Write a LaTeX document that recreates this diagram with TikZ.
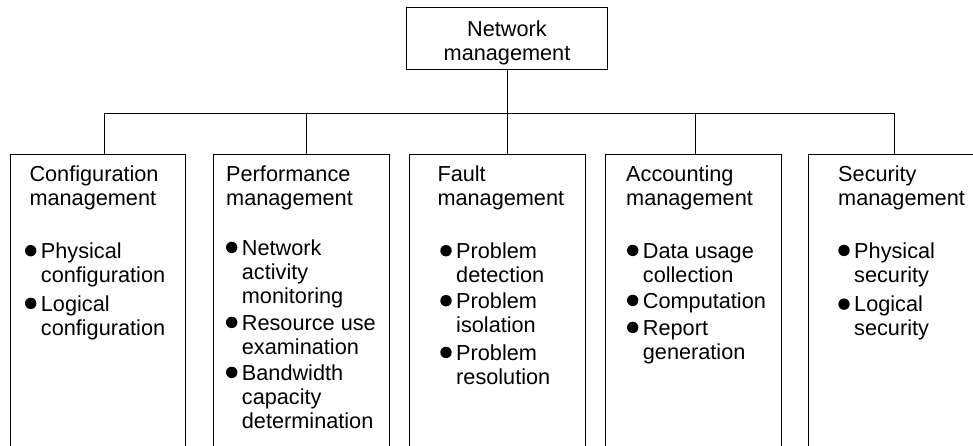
\documentclass[tikz,border=0pt]{standalone}
\usepackage{fontspec}
\setmainfont{Liberation Sans}
\tikzset{
  line/.style={line width=1pt},
  topbox/.style={draw,line width=1pt,minimum width=201pt,minimum height=61.3pt,align=center,inner sep=0pt},
  area/.style={draw,line width=1pt,minimum width=175.4pt,minimum height=330pt,anchor=north west,inner sep=0pt},
  txt/.style={anchor=base west,align=left,inner sep=0pt},
  dot/.style={circle,fill,inner sep=0pt,minimum size=11.4pt}
}
\begin{document}
\begin{tikzpicture}[x=1pt,y=-1pt,every node/.style={font=\fontsize{21.7}{24}\selectfont}]
  \useasboundingbox (0,0) rectangle (973,445);
  \clip (0,0) rectangle (973,445);
  % top of the tree
  \node[topbox] (net) at (507,38.6) {\rule{0pt}{23.5pt}Network\\management};
  % the five functional areas
  \node[area] (cfg) at (10,154) {};
  \node[area] (perf) at (213.3,154) {};
  \node[area] (fault) at (409.3,154) {};
  \node[area] (acct) at (605.3,154) {};
  \node[area] (sec) at (808.3,154) {};
  % bus and drops
  \coordinate (d1) at (104,113.3);
  \coordinate (d2) at (306,113.3);
  \coordinate (d4) at (695.3,113.3);
  \coordinate (d5) at (894.7,113.3);
  \draw[line] (net.south) -- (net.south |- fault.north);
  \draw[line] (d1) -- (d5);
  \foreach \d/\b in {d1/cfg,d2/perf,d4/acct,d5/sec}
    \draw[line] (\d) -- (\d |- \b.north);
  % titles (placed at the last baseline)
  \node[txt] (cfgT) at (29.3,205) {Configuration\\management};
  \node[txt] (perfT) at (226,205) {Performance\\management};
  \node[txt] (faultT) at (437.3,205) {Fault\\management};
  \node[txt] (acctT) at (626,205) {Accounting\\management};
  \node[txt] (secT) at (838,205) {Security\\management};
  % bulleted items: first baseline / extra lines / text
  \foreach \n/\p/\k/\t in {
      cfgA/{40.7,258.3}/1/{Physical\\configuration},
      cfgB/{40.7,311}/1/{Logical\\configuration},
      perfA/{241.7,255}/2/{Network\\activity\\monitoring},
      perfB/{241.7,330}/1/{Resource use\\examination},
      perfC/{241.7,380}/2/{Bandwidth\\capacity\\determination},
      faultA/{456,258.3}/1/{Problem\\detection},
      faultB/{456,308.3}/1/{Problem\\isolation},
      faultC/{456,360}/1/{Problem\\resolution},
      acctA/{642.7,258}/1/{Data usage\\collection},
      acctB/{642.7,308}/0/{Computation},
      acctC/{642.7,335}/1/{Report\\generation},
      secA/{854,258}/1/{Physical\\security},
      secB/{854,311.7}/1/{Logical\\security}} {
    \node[txt] (\n) at ([shift={(0,24*\k)}]\p) {\t};
    \node[dot] (\n-dot) at ([shift={(-10,-7.6-24*\k)}]\n.base west) {};
  }
\end{tikzpicture}
\end{document}
